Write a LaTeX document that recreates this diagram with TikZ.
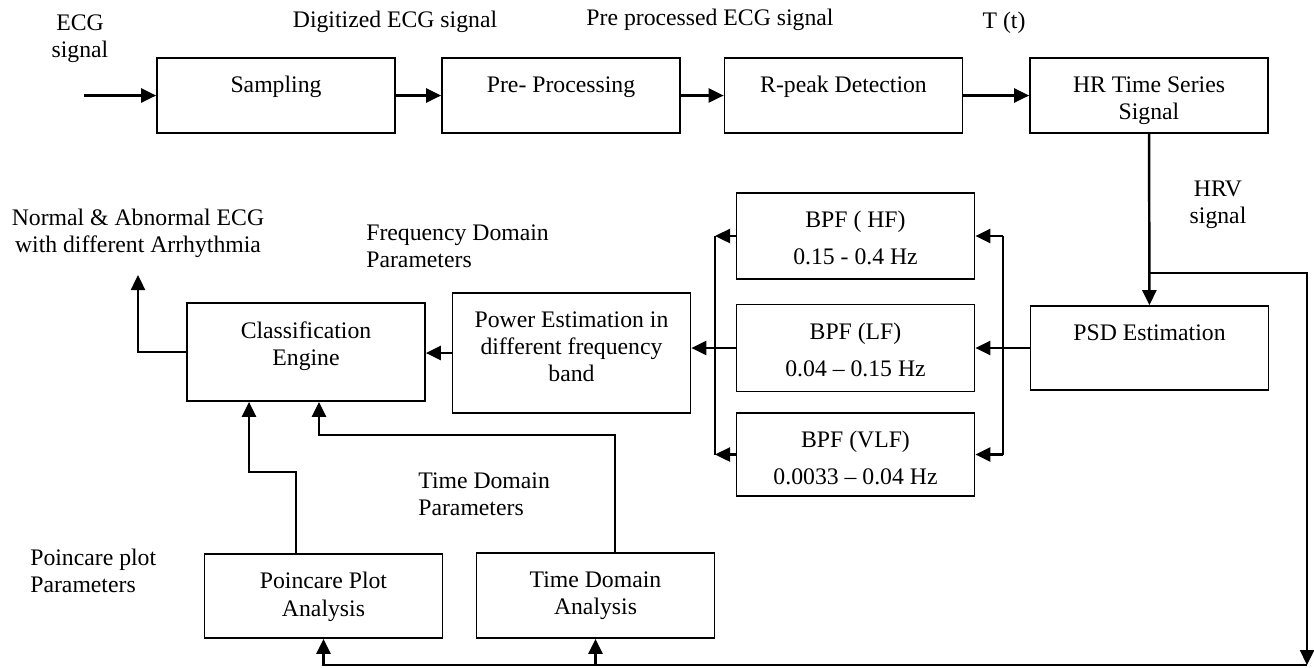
\documentclass[tikz,border=0pt]{standalone}
\usepackage{fontspec}
\setmainfont{Liberation Serif}
\usetikzlibrary{positioning,arrows.meta}

\tikzset{
  blk/.style={draw, line width=1pt, minimum width=4.76cm, inner sep=0pt},
  inlbl/.style={anchor=north, yshift=-0.38cm, align=center, inner sep=0pt},
  lbl/.style={align=center, inner sep=0pt},
  arr/.style={line width=1.4pt, -{Triangle[length=0.3cm,width=0.28cm]}},
  wire/.style={line width=1.4pt}
}

\begin{document}
\begin{tikzpicture}[x=0.02cm, y=-0.02cm, font=\fontsize{13.5}{15.5}\selectfont]
\useasboundingbox (0,0) rectangle (1314,667);

% top row
\node[blk, minimum height=1.5cm, label={[inlbl]north:Sampling}] (samp) at (276,95.5) {};
\node[blk, minimum height=1.5cm, label={[inlbl]north:Pre- Processing}] (prep) at (561,95.5) {};
\node[blk, minimum height=1.5cm, label={[inlbl]north:R-peak Detection}] (rpeak) at (843.5,95.5) {};
\node[blk, minimum height=1.5cm, label={[inlbl]north:{HR Time Series\\Signal}}] (hrts) at (1149,95.5) {};

% frequency branch
\node[blk, minimum height=1.68cm, label={[inlbl]north:PSD Estimation}] (psd) at (1149.5,348) {};
\node[blk, minimum height=1.72cm, label={[inlbl]north:{BPF ( HF)\\[5.5pt]0.15 - 0.4 Hz}}] (bpfhf) at (855.5,236) {};
\node[blk, minimum height=1.74cm, label={[inlbl]north:{BPF (LF)\\[5.5pt]0.04 -- 0.15 Hz}}] (bpflf) at (855.5,348) {};
\node[blk, minimum height=1.66cm, label={[inlbl]north:{BPF (VLF)\\[5.5pt]0.0033 -- 0.04 Hz}}] (bpfvlf) at (855.5,454.5) {};
\node[blk, minimum height=2.4cm, label={[inlbl]north:{Power Estimation in\\different frequency\\band}}] (power) at (571.5,353) {};
\node[blk, minimum height=1.96cm, label={[inlbl]north:{Classification\\Engine}}] (cls) at (306,352) {};

% time domain and poincare
\node[blk, minimum height=1.68cm, label={[inlbl]north:{Poincare Plot\\Analysis}}] (poin) at (323.5,596) {};
\node[blk, minimum height=1.7cm, label={[inlbl]north:{Time Domain\\Analysis}}] (tda) at (595.5,595.5) {};

% free labels
\node[lbl] (ecglbl) at (80,39) {ECG\\signal};
\node[lbl] (diglbl) at (395,22) {Digitized ECG signal};
\node[lbl] (prelbl) at (710,20) {Pre processed ECG signal};
\node[lbl] (ttlbl) at (1004,23) {T (t)};
\node[lbl] (hrvlbl) at (1218,205) {HRV\\signal};
\node[lbl] (outlbl) at (138,233) {Normal \& Abnormal ECG\\with different Arrhythmia};
\node[lbl, align=left, anchor=west] (fdlbl) at (366,246) {Frequency Domain\\Parameters};
\node[lbl, align=left, anchor=west] (tdlbl) at (418,494) {Time Domain\\Parameters};
\node[lbl, align=left, anchor=west] (pplbl) at (30,571) {Poincare plot\\Parameters};

% top chain
\coordinate (ecgin) at (84,95.5);
\draw[arr] (ecgin) -- (samp);
\draw[arr] (samp) -- (prep);
\draw[arr] (prep) -- (rpeak);
\draw[arr] (rpeak) -- (hrts);
\draw[arr] (hrts) -- (psd);

% HRV tap to the bottom
\coordinate (tap) at (1150,273);
\coordinate (bend) at (1307,665);
\draw[arr] (tap) -| (bend);
\draw[arr] (bend) -| (poin.south);
\draw[arr] (tda.south |- bend) -- (tda.south);

% filter bank
\coordinate (rbus) at (1003,0);
\coordinate (lbus) at (715,0);
\draw[arr] (psd) -- (bpflf);
\draw[wire] (rbus |- bpfhf) -- (rbus |- bpfvlf);
\draw[arr] (rbus |- bpfhf) -- (bpfhf.east);
\draw[arr] (rbus |- bpfvlf) -- (bpfvlf.east);
\draw[wire] (lbus |- bpfhf) -- (lbus |- bpfvlf);
\draw[arr] (bpfhf.west) -- (lbus |- bpfhf);
\draw[arr] (bpfvlf.west) -- (lbus |- bpfvlf);
\draw[arr] (bpflf.west) -- (bpflf.west -| power.east);
\draw[arr] (power.west) -- (power.west -| cls.east);

% classifier in and out
\coordinate (clsout) at (138,275);
\draw[arr] (cls.west) -| (clsout);
\draw[arr] ([xshift=-0.55cm]poin.north) -- ++(0,-81) -| ([xshift=-1.14cm]cls.south);
\draw[arr] ([xshift=0.39cm]tda.north) -- ++(0,-117) -| ([xshift=0.26cm]cls.south);
\end{tikzpicture}
\end{document}
